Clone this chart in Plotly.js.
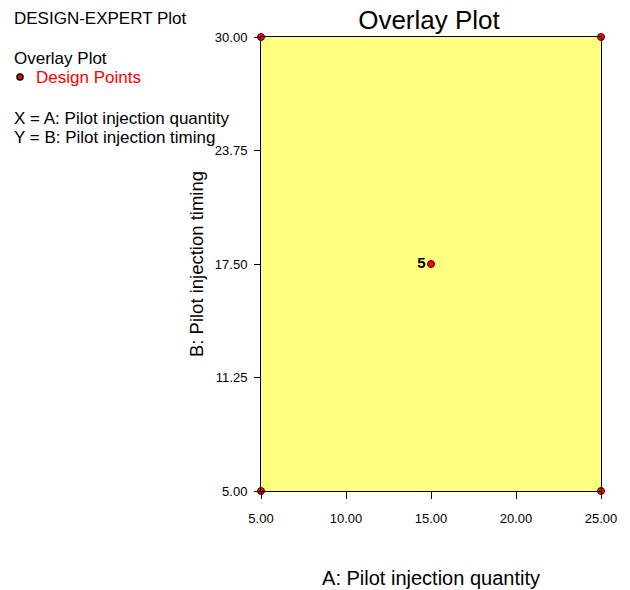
<!DOCTYPE html>
<html>
<head>
<meta charset="utf-8">
<script src="https://cdn.plot.ly/plotly-3.0.1.min.js"></script>
<style>body{margin:0;padding:0;background:#fff;} #chart{width:630px;height:590px;}</style>
</head>
<body>
<div id="chart"></div>
<script>
// Data
const pointA = [5, 25, 5, 25, 15];
const pointB = [5, 5, 30, 30, 17.5];
const pointLabels = ['', '', '', '', '5'];
const xTicks = [5, 10, 15, 20, 25];
const yTicks = [5, 11.25, 17.5, 23.75, 30];
const xTickText = ['5.00', '10.00', '15.00', '20.00', '25.00'];
const yTickText = ['5.00', '11.25', '17.50', '23.75', '30.00'];

const L = 261, R = 29, T = 37, B = 99;
const W = 630, H = 590;
const pw = W - L - R, ph = H - T - B;
const px = x => (x - L) / pw;
const py = y => (H - B - y) / ph;

const font = 'Arial, "Liberation Sans", sans-serif';

const trace = {
  x: pointA, y: pointB, text: pointLabels,
  mode: 'markers+text', type: 'scatter',
  textposition: 'middle left',
  textfont: {family: font, size: 15, color: '#000', weight: 'bold'},
  marker: {color: '#ff0000', size: 7, line: {color: '#400000', width: 1}},
  cliponaxis: false, hoverinfo: 'none', showlegend: false
};

const legendText = [
  {t: 'DESIGN-EXPERT Plot', x: 12, y: 18, c: '#000'},
  {t: 'Overlay Plot', x: 12, y: 58, c: '#000'},
  {t: 'Design Points', x: 34, y: 77, c: '#ff0000'},
  {t: 'X = A: Pilot injection quantity', x: 12, y: 118, c: '#000'},
  {t: 'Y = B: Pilot injection timing', x: 12, y: 137, c: '#000'}
];

const annotations = legendText.map(a => ({
  text: a.t, xref: 'paper', yref: 'paper', x: px(a.x), y: py(a.y),
  xanchor: 'left', yanchor: 'middle', showarrow: false,
  font: {family: font, size: 17, color: a.c}
}));

const shapes = [{
  type: 'circle', xref: 'paper', yref: 'paper',
  x0: px(17), x1: px(23), y0: py(74), y1: py(80),
  fillcolor: '#ff0000', line: {color: '#000', width: 1.5}
}];

const layout = {
  width: W, height: H,
  margin: {l: L, r: R, t: T, b: B, pad: 0},
  paper_bgcolor: '#fff', plot_bgcolor: '#ffff80',
  title: {text: 'Overlay Plot', font: {family: font, size: 26, color: '#000'},
          x: px(429), xanchor: 'center', y: 1 - 20 / H, yanchor: 'middle', xref: 'paper'},
  xaxis: {
    range: [5, 25], tickvals: xTicks, ticktext: xTickText,
    ticks: 'outside', ticklen: 7, tickcolor: '#000', tickwidth: 1,
    ticklabelstandoff: 8,
    showline: true, linecolor: '#000', linewidth: 1, mirror: true,
    showgrid: false, zeroline: false,
    tickfont: {family: font, size: 13, color: '#000'},
    title: {text: 'A: Pilot injection quantity', font: {family: font, size: 20, color: '#000'}, standoff: 46},
    automargin: false, fixedrange: true
  },
  yaxis: {
    range: [5, 30], tickvals: yTicks, ticktext: yTickText,
    ticks: 'outside', ticklen: 6, tickcolor: '#000', tickwidth: 1,
    ticklabelstandoff: 4,
    showline: true, linecolor: '#000', linewidth: 1, mirror: true,
    showgrid: false, zeroline: false,
    tickfont: {family: font, size: 13, color: '#000'},
    title: {text: 'B: Pilot injection timing', font: {family: font, size: 18.5, color: '#000'}, standoff: 6},
    automargin: false, fixedrange: true
  },
  annotations: annotations,
  shapes: shapes,
  showlegend: false
};

Plotly.newPlot('chart', [trace], layout, {displayModeBar: false, staticPlot: true});
</script>
</body>
</html>
